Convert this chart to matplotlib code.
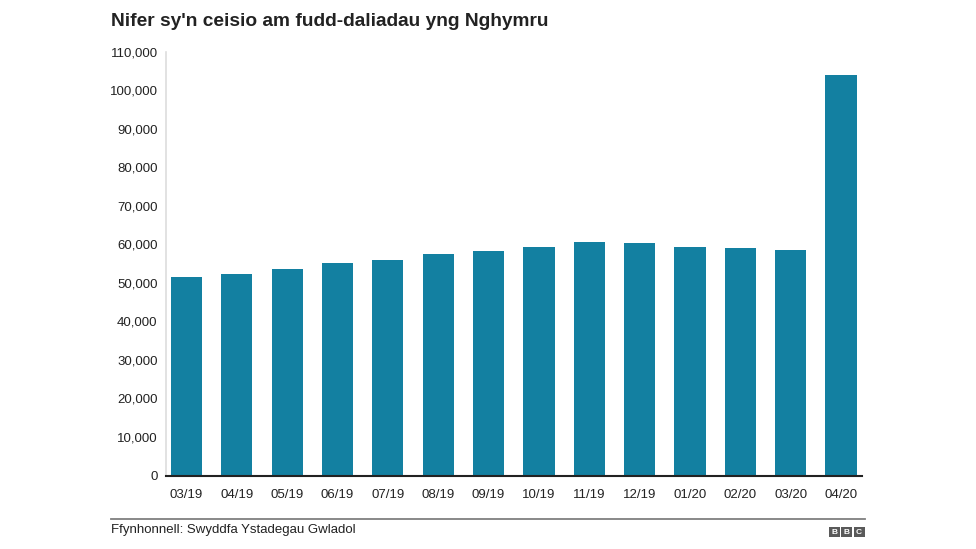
import matplotlib
matplotlib.use("Agg")
import matplotlib.pyplot as plt
from matplotlib.patches import Rectangle
from matplotlib.ticker import FuncFormatter
import numpy as np

plt.rcParams["font.family"] = ["Liberation Sans", "DejaVu Sans"]

months = ["03/19", "04/19", "05/19", "06/19", "07/19", "08/19", "09/19",
          "10/19", "11/19", "12/19", "01/20", "02/20", "03/20", "04/20"]
claimants = [51560, 52260, 53640, 55270, 55900, 57450, 58390,
             59270, 60570, 60310, 59270, 59090, 58650, 103950]
y_ticks = list(range(0, 110001, 10000))

W, H = 976, 549
fig = plt.figure(figsize=(W / 100, H / 100), dpi=100)
ax = fig.add_axes([166 / W, 1 - 475.5 / H, (862 - 166) / W, (475.5 - 51.7) / H])

x = np.arange(len(months))
ax.bar(x, claimants, width=0.62, color="#1380A1")
ax.set_xlim(-0.407, 13.417)
ax.set_ylim(0, 110000)
ax.set_xticks(x)
ax.set_xticklabels(months)
ax.set_yticks(y_ticks)
ax.yaxis.set_major_formatter(FuncFormatter(lambda v, _: f"{int(v):,}"))
ax.tick_params(axis="both", length=0, labelsize=9.5, labelcolor="#222222")
ax.tick_params(axis="x", pad=10)
ax.tick_params(axis="y", pad=6)

for side in ["top", "right"]:
    ax.spines[side].set_visible(False)
ax.spines["left"].set_color("#dddddd")
ax.spines["left"].set_linewidth(1.2)
ax.spines["bottom"].set_color("#222222")
ax.spines["bottom"].set_linewidth(1.5)

fig.text(111 / W, 1 - 21 / H, "Nifer sy'n ceisio am fudd-daliadau yng Nghymru",
         fontsize=13.8, fontweight="bold", va="center", ha="left", color="#222222")

fig.add_artist(plt.Line2D([111 / W, 865 / W], [1 - 519 / H, 1 - 519 / H],
                          color="#7f7f7f", lw=1.3))
fig.text(111 / W, 1 - 530 / H, "Ffynhonnell: Swyddfa Ystadegau Gwladol",
         fontsize=9.5, va="center", ha="left", color="#222222")

# BBC logo
for i, letter in enumerate("BBC"):
    x0 = 829 + i * 12.3
    fig.add_artist(Rectangle((x0 / W, 1 - 537 / H), 11 / W, 10 / H,
                             transform=fig.transFigure, color="#5a5a5a", lw=0))
    fig.text((x0 + 5.5) / W, 1 - 532 / H, letter, fontsize=6, fontweight="bold",
             color="white", ha="center", va="center")

fig.savefig("out.png", dpi=100)
